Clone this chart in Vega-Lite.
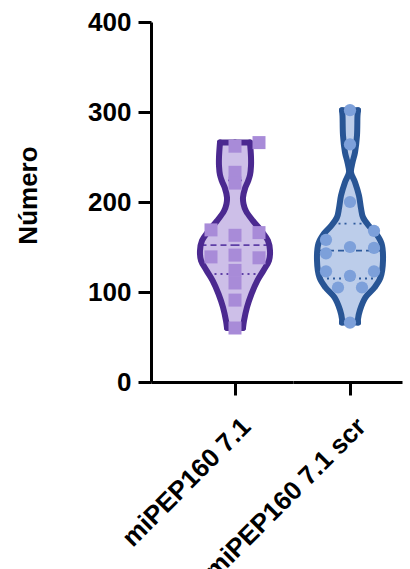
{
  "$schema": "https://vega.github.io/schema/vega-lite/v6.json",
  "autosize": "none",
  "padding": {"left": 151, "top": 22, "right": 259, "bottom": 187},
  "bounds": "flush",
  "spacing": 0,
  "config": {
    "view": {"stroke": null},
    "font": "Liberation Sans",
    "axis": {
      "labelFont": "Liberation Sans", "labelFontWeight": "bold", "labelFontSize": 26, "labelColor": "black", "labelLimit": 0,
      "titleFont": "Liberation Sans", "titleFontWeight": "bold", "titleFontSize": 26, "titleColor": "black",
      "tickSize": 13, "tickWidth": 3, "tickColor": "black",
      "domainColor": "black", "domainWidth": 3, "grid": false
    }
  },
  "datasets": {
    "violin": [
      {"g": "miPEP160 7.1", "value": 266, "w": 15},
      {"g": "miPEP160 7.1", "value": 250, "w": 16},
      {"g": "miPEP160 7.1", "value": 240, "w": 16},
      {"g": "miPEP160 7.1", "value": 230, "w": 15},
      {"g": "miPEP160 7.1", "value": 223, "w": 13},
      {"g": "miPEP160 7.1", "value": 215, "w": 10},
      {"g": "miPEP160 7.1", "value": 205, "w": 8},
      {"g": "miPEP160 7.1", "value": 198, "w": 8.5},
      {"g": "miPEP160 7.1", "value": 190, "w": 11},
      {"g": "miPEP160 7.1", "value": 179, "w": 18},
      {"g": "miPEP160 7.1", "value": 167, "w": 27},
      {"g": "miPEP160 7.1", "value": 157, "w": 33},
      {"g": "miPEP160 7.1", "value": 146, "w": 35},
      {"g": "miPEP160 7.1", "value": 135, "w": 34},
      {"g": "miPEP160 7.1", "value": 124, "w": 28.5},
      {"g": "miPEP160 7.1", "value": 113, "w": 22.5},
      {"g": "miPEP160 7.1", "value": 98, "w": 16.5},
      {"g": "miPEP160 7.1", "value": 83, "w": 12},
      {"g": "miPEP160 7.1", "value": 68, "w": 9},
      {"g": "miPEP160 7.1", "value": 60, "w": 8},
      {"g": "miPEP160 7.1 scr", "value": 302, "w": 8},
      {"g": "miPEP160 7.1 scr", "value": 296, "w": 7.5},
      {"g": "miPEP160 7.1 scr", "value": 274, "w": 7},
      {"g": "miPEP160 7.1 scr", "value": 255, "w": 5},
      {"g": "miPEP160 7.1 scr", "value": 244, "w": 2.5},
      {"g": "miPEP160 7.1 scr", "value": 233, "w": 1},
      {"g": "miPEP160 7.1 scr", "value": 222, "w": 5},
      {"g": "miPEP160 7.1 scr", "value": 207, "w": 9},
      {"g": "miPEP160 7.1 scr", "value": 193, "w": 11},
      {"g": "miPEP160 7.1 scr", "value": 183, "w": 13},
      {"g": "miPEP160 7.1 scr", "value": 174, "w": 18.5},
      {"g": "miPEP160 7.1 scr", "value": 165, "w": 26},
      {"g": "miPEP160 7.1 scr", "value": 154, "w": 31.5},
      {"g": "miPEP160 7.1 scr", "value": 135, "w": 33},
      {"g": "miPEP160 7.1 scr", "value": 116, "w": 30.5},
      {"g": "miPEP160 7.1 scr", "value": 105, "w": 24.5},
      {"g": "miPEP160 7.1 scr", "value": 94, "w": 15.5},
      {"g": "miPEP160 7.1 scr", "value": 80, "w": 10},
      {"g": "miPEP160 7.1 scr", "value": 70, "w": 8},
      {"g": "miPEP160 7.1 scr", "value": 66, "w": 8}
    ],
    "stats": [
      {"g": "miPEP160 7.1", "stat": "median", "value": 152, "w": 34.5},
      {"g": "miPEP160 7.1", "stat": "q1", "value": 120, "w": 26.5},
      {"g": "miPEP160 7.1", "stat": "q3", "value": 224, "w": 13},
      {"g": "miPEP160 7.1", "stat": "min", "value": 60, "w": 8},
      {"g": "miPEP160 7.1", "stat": "max", "value": 266, "w": 15},
      {"g": "miPEP160 7.1 scr", "stat": "median", "value": 146, "w": 32},
      {"g": "miPEP160 7.1 scr", "stat": "q1", "value": 115, "w": 29},
      {"g": "miPEP160 7.1 scr", "stat": "q3", "value": 176, "w": 17.5},
      {"g": "miPEP160 7.1 scr", "stat": "min", "value": 66, "w": 8},
      {"g": "miPEP160 7.1 scr", "stat": "max", "value": 302, "w": 8}
    ],
    "points": [
      {"g": "miPEP160 7.1", "value": 266, "col": 1},
      {"g": "miPEP160 7.1", "value": 262, "col": 0},
      {"g": "miPEP160 7.1", "value": 233, "col": 0},
      {"g": "miPEP160 7.1", "value": 221, "col": 0},
      {"g": "miPEP160 7.1", "value": 169, "col": -1},
      {"g": "miPEP160 7.1", "value": 163, "col": 0},
      {"g": "miPEP160 7.1", "value": 166, "col": 1},
      {"g": "miPEP160 7.1", "value": 139, "col": -1},
      {"g": "miPEP160 7.1", "value": 141, "col": 0},
      {"g": "miPEP160 7.1", "value": 138, "col": 1},
      {"g": "miPEP160 7.1", "value": 124, "col": 0},
      {"g": "miPEP160 7.1", "value": 110, "col": 0},
      {"g": "miPEP160 7.1", "value": 91, "col": 0},
      {"g": "miPEP160 7.1", "value": 60, "col": 0},
      {"g": "miPEP160 7.1 scr", "value": 302, "col": 0},
      {"g": "miPEP160 7.1 scr", "value": 264, "col": 0},
      {"g": "miPEP160 7.1 scr", "value": 200, "col": 0},
      {"g": "miPEP160 7.1 scr", "value": 168, "col": 1},
      {"g": "miPEP160 7.1 scr", "value": 158, "col": -1},
      {"g": "miPEP160 7.1 scr", "value": 143, "col": -1},
      {"g": "miPEP160 7.1 scr", "value": 150, "col": 0},
      {"g": "miPEP160 7.1 scr", "value": 149, "col": 1},
      {"g": "miPEP160 7.1 scr", "value": 123, "col": -1},
      {"g": "miPEP160 7.1 scr", "value": 118, "col": 0},
      {"g": "miPEP160 7.1 scr", "value": 123, "col": 1},
      {"g": "miPEP160 7.1 scr", "value": 105, "col": -0.5},
      {"g": "miPEP160 7.1 scr", "value": 105, "col": 0.5},
      {"g": "miPEP160 7.1 scr", "value": 66, "col": 0}
    ]
  },
  "hconcat": [
    {
      "width": 142,
      "height": 360,
      "encoding": {
        "y": {"field": "value", "type": "quantitative",
          "scale": {"domain": [0, 400], "nice": false, "zero": true},
          "axis": {"values": [0, 100, 200, 300, 400], "title": "Número", "labelPadding": 7,
            "domainWidth": 3, "tickWidth": 3, "tickSize": 13, "domainColor": "black", "tickColor": "black",
            "titleAngle": -90, "titleX": -115, "titleY": 173, "titleAlign": "center", "titleBaseline": "alphabetic"}}
      },
      "layer": [
        {
          "data": {"name": "violin"},
          "transform": [{"filter": "datum.g == 'miPEP160 7.1'"}],
          "mark": {"type": "area", "orient": "horizontal", "interpolate": "catmull-rom", "fill": "#cdbfe8", "opacity": 1},
          "encoding": {
            "x": {"field": "w", "type": "quantitative", "scale": {"domain": [-84, 58], "nice": false, "zero": false},
              "axis": {"values": [0], "labelExpr": "'miPEP160 7.1'", "labelAngle": -45, "labelAlign": "right", "labelBaseline": "top", "labelPadding": 18, "labelOffset": 2, "title": null, "labelFlush": false, "labelOverlap": false,
                "domainWidth": 3, "tickWidth": 3, "tickSize": 13, "domainColor": "black", "tickColor": "black"}},
            "x2": {"datum": 0}
          }
        },
        {
          "data": {"name": "violin"},
          "transform": [{"filter": "datum.g == 'miPEP160 7.1'"}],
          "mark": {"type": "area", "orient": "horizontal", "interpolate": "catmull-rom", "fill": "#cdbfe8", "opacity": 1},
          "encoding": {
            "x": {"field": "w", "type": "quantitative", "scale": {"domain": [-58, 84], "reverse": true, "nice": false, "zero": false}, "axis": null},
            "x2": {"datum": 0}
          }
        },
        {
          "data": {"name": "stats"},
          "transform": [{"filter": "datum.g == 'miPEP160 7.1' && (datum.stat == 'median' || datum.stat == 'q1' || datum.stat == 'q3')"}],
          "mark": {"type": "rule", "stroke": "#5e3fa6", "strokeWidth": 1.8},
          "encoding": {
            "x": {"field": "w", "type": "quantitative", "scale": {"domain": [-84, 58], "nice": false, "zero": false}, "axis": null},
            "x2": {"datum": 0},
            "strokeDash": {"field": "stat", "type": "nominal", "scale": {"domain": ["median", "q1", "q3"], "range": [[6, 4], [2, 4], [2, 4]]}, "legend": null}
          }
        },
        {
          "data": {"name": "stats"},
          "transform": [{"filter": "datum.g == 'miPEP160 7.1' && (datum.stat == 'median' || datum.stat == 'q1' || datum.stat == 'q3')"}],
          "mark": {"type": "rule", "stroke": "#5e3fa6", "strokeWidth": 1.8},
          "encoding": {
            "x": {"field": "w", "type": "quantitative", "scale": {"domain": [-58, 84], "reverse": true, "nice": false, "zero": false}, "axis": null},
            "x2": {"datum": 0},
            "strokeDash": {"field": "stat", "type": "nominal", "scale": {"domain": ["median", "q1", "q3"], "range": [[6, 4], [2, 4], [2, 4]]}, "legend": null}
          }
        },
        {
          "data": {"name": "violin"},
          "transform": [{"filter": "datum.g == 'miPEP160 7.1'"}],
          "mark": {"type": "line", "interpolate": "catmull-rom", "stroke": "#4b2990", "strokeWidth": 6, "strokeCap": "round", "strokeJoin": "round"},
          "encoding": {
            "x": {"field": "w", "type": "quantitative", "scale": {"domain": [-84, 58], "nice": false, "zero": false}, "axis": null},
            "order": {"field": "value", "type": "quantitative"}
          }
        },
        {
          "data": {"name": "violin"},
          "transform": [{"filter": "datum.g == 'miPEP160 7.1'"}],
          "mark": {"type": "line", "interpolate": "catmull-rom", "stroke": "#4b2990", "strokeWidth": 6, "strokeCap": "round", "strokeJoin": "round"},
          "encoding": {
            "x": {"field": "w", "type": "quantitative", "scale": {"domain": [-58, 84], "reverse": true, "nice": false, "zero": false}, "axis": null},
            "order": {"field": "value", "type": "quantitative"}
          }
        },
        {
          "data": {"name": "stats"},
          "transform": [{"filter": "datum.g == 'miPEP160 7.1' && (datum.stat == 'min' || datum.stat == 'max')"}],
          "mark": {"type": "rule", "stroke": "#4b2990", "strokeWidth": 6, "strokeCap": "round"},
          "encoding": {
            "x": {"field": "w", "type": "quantitative", "scale": {"domain": [-84, 58], "nice": false, "zero": false}, "axis": null},
            "x2": {"datum": 0}
          }
        },
        {
          "data": {"name": "stats"},
          "transform": [{"filter": "datum.g == 'miPEP160 7.1' && (datum.stat == 'min' || datum.stat == 'max')"}],
          "mark": {"type": "rule", "stroke": "#4b2990", "strokeWidth": 6, "strokeCap": "round"},
          "encoding": {
            "x": {"field": "w", "type": "quantitative", "scale": {"domain": [-58, 84], "reverse": true, "nice": false, "zero": false}, "axis": null},
            "x2": {"datum": 0}
          }
        },
        {
          "data": {"name": "points"},
          "transform": [{"filter": "datum.g == 'miPEP160 7.1'"}],
          "mark": {"type": "square", "size": 169, "color": "#a88bd8", "opacity": 1},
          "encoding": {
            "x": {"field": "col", "type": "quantitative", "scale": {"domain": [-3.5, 2.41667], "nice": false, "zero": false}, "axis": null}
          }
        }
      ],
      "resolve": {"scale": {"x": "independent"}, "axis": {"x": "independent"}}
    },
    {
      "width": 109,
      "height": 360,
      "encoding": {
        "y": {"field": "value", "type": "quantitative",
          "scale": {"domain": [0, 400], "nice": false, "zero": true}, "axis": null}
      },
      "layer": [
        {
          "data": {"name": "violin"},
          "transform": [{"filter": "datum.g == 'miPEP160 7.1 scr'"}],
          "mark": {"type": "area", "orient": "horizontal", "interpolate": "catmull-rom", "fill": "#bccdea", "opacity": 1},
          "encoding": {
            "x": {"field": "w", "type": "quantitative", "scale": {"domain": [-57, 52], "nice": false, "zero": false},
              "axis": {"values": [0], "labelExpr": "'miPEP160 7.1 scr'", "labelAngle": -45, "labelAlign": "right", "labelBaseline": "top", "labelPadding": 18, "labelOffset": 2, "title": null, "labelFlush": false, "labelOverlap": false,
                "domainWidth": 3, "tickWidth": 3, "tickSize": 13, "domainColor": "black", "tickColor": "black"}},
            "x2": {"datum": 0}
          }
        },
        {
          "data": {"name": "violin"},
          "transform": [{"filter": "datum.g == 'miPEP160 7.1 scr'"}],
          "mark": {"type": "area", "orient": "horizontal", "interpolate": "catmull-rom", "fill": "#bccdea", "opacity": 1},
          "encoding": {
            "x": {"field": "w", "type": "quantitative", "scale": {"domain": [-52, 57], "reverse": true, "nice": false, "zero": false}, "axis": null},
            "x2": {"datum": 0}
          }
        },
        {
          "data": {"name": "stats"},
          "transform": [{"filter": "datum.g == 'miPEP160 7.1 scr' && (datum.stat == 'median' || datum.stat == 'q1' || datum.stat == 'q3')"}],
          "mark": {"type": "rule", "stroke": "#2c5a9c", "strokeWidth": 1.8},
          "encoding": {
            "x": {"field": "w", "type": "quantitative", "scale": {"domain": [-57, 52], "nice": false, "zero": false}, "axis": null},
            "x2": {"datum": 0},
            "strokeDash": {"field": "stat", "type": "nominal", "scale": {"domain": ["median", "q1", "q3"], "range": [[6, 4], [2, 4], [2, 4]]}, "legend": null}
          }
        },
        {
          "data": {"name": "stats"},
          "transform": [{"filter": "datum.g == 'miPEP160 7.1 scr' && (datum.stat == 'median' || datum.stat == 'q1' || datum.stat == 'q3')"}],
          "mark": {"type": "rule", "stroke": "#2c5a9c", "strokeWidth": 1.8},
          "encoding": {
            "x": {"field": "w", "type": "quantitative", "scale": {"domain": [-52, 57], "reverse": true, "nice": false, "zero": false}, "axis": null},
            "x2": {"datum": 0},
            "strokeDash": {"field": "stat", "type": "nominal", "scale": {"domain": ["median", "q1", "q3"], "range": [[6, 4], [2, 4], [2, 4]]}, "legend": null}
          }
        },
        {
          "data": {"name": "violin"},
          "transform": [{"filter": "datum.g == 'miPEP160 7.1 scr'"}],
          "mark": {"type": "line", "interpolate": "catmull-rom", "stroke": "#285595", "strokeWidth": 6, "strokeCap": "round", "strokeJoin": "round"},
          "encoding": {
            "x": {"field": "w", "type": "quantitative", "scale": {"domain": [-57, 52], "nice": false, "zero": false}, "axis": null},
            "order": {"field": "value", "type": "quantitative"}
          }
        },
        {
          "data": {"name": "violin"},
          "transform": [{"filter": "datum.g == 'miPEP160 7.1 scr'"}],
          "mark": {"type": "line", "interpolate": "catmull-rom", "stroke": "#285595", "strokeWidth": 6, "strokeCap": "round", "strokeJoin": "round"},
          "encoding": {
            "x": {"field": "w", "type": "quantitative", "scale": {"domain": [-52, 57], "reverse": true, "nice": false, "zero": false}, "axis": null},
            "order": {"field": "value", "type": "quantitative"}
          }
        },
        {
          "data": {"name": "stats"},
          "transform": [{"filter": "datum.g == 'miPEP160 7.1 scr' && (datum.stat == 'min' || datum.stat == 'max')"}],
          "mark": {"type": "rule", "stroke": "#285595", "strokeWidth": 6, "strokeCap": "round"},
          "encoding": {
            "x": {"field": "w", "type": "quantitative", "scale": {"domain": [-57, 52], "nice": false, "zero": false}, "axis": null},
            "x2": {"datum": 0}
          }
        },
        {
          "data": {"name": "stats"},
          "transform": [{"filter": "datum.g == 'miPEP160 7.1 scr' && (datum.stat == 'min' || datum.stat == 'max')"}],
          "mark": {"type": "rule", "stroke": "#285595", "strokeWidth": 6, "strokeCap": "round"},
          "encoding": {
            "x": {"field": "w", "type": "quantitative", "scale": {"domain": [-52, 57], "reverse": true, "nice": false, "zero": false}, "axis": null},
            "x2": {"datum": 0}
          }
        },
        {
          "data": {"name": "points"},
          "transform": [{"filter": "datum.g == 'miPEP160 7.1 scr'"}],
          "mark": {"type": "circle", "size": 150, "color": "#7da0da", "opacity": 1},
          "encoding": {
            "x": {"field": "col", "type": "quantitative", "scale": {"domain": [-2.375, 2.16667], "nice": false, "zero": false}, "axis": null}
          }
        }
      ],
      "resolve": {"scale": {"x": "independent"}, "axis": {"x": "independent"}}
    }
  ]
}
